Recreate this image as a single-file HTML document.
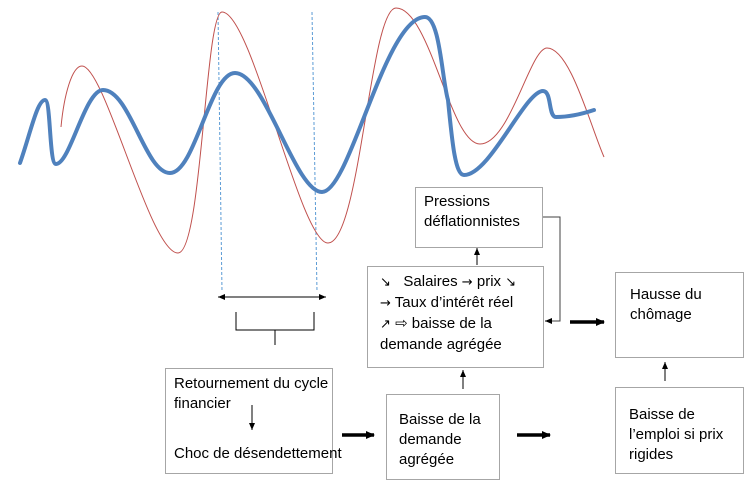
<!DOCTYPE html>
<html><head><meta charset="utf-8"><style>
body{margin:0;background:#fff;width:751px;height:490px;overflow:hidden;position:relative;font-family:"Liberation Sans",sans-serif;}
.b{position:absolute;border:1px solid #a6a6a6;background:#fff;box-sizing:border-box;font-size:15px;line-height:20px;color:#000;white-space:nowrap;}
.g{font-family:"DejaVu Sans",sans-serif;font-size:13px;}
</style></head><body>
<svg width="751" height="490" style="position:absolute;left:0;top:0">
<defs>
<marker id="a" markerWidth="8" markerHeight="8" refX="7" refY="4" orient="auto" markerUnits="userSpaceOnUse"><path d="M0,1 L7,4 L0,7z" fill="#000"/></marker>
<marker id="t" markerWidth="10" markerHeight="10" refX="8" refY="5" orient="auto" markerUnits="userSpaceOnUse"><path d="M0,1 L9,5 L0,9z" fill="#000"/></marker>
</defs>
<line x1="218" y1="12" x2="222" y2="292" stroke="#5b9bd5" stroke-dasharray="3,2" stroke-width="1"/>
<line x1="312" y1="12" x2="317" y2="292" stroke="#5b9bd5" stroke-dasharray="3,2" stroke-width="1"/>
<path d="M61,127 C64,95 72,66 82,66 C105,66 150,253 178,253 C202,253 205,12 222,12 C252,12 300,243 328,243 C360,243 370,8 396,8 C430,8 450,144 480,144 C510,144 530,48 547,48 C570,48 590,125 604,157" fill="none" stroke="#c0504d" stroke-width="1"/>
<path d="M20,163 C30,135 37,100 45,100 C51,100 49,164 56,164 C70,164 85,90 103,90 C130,90 145,173 170,173 C195,173 210,73 235,73 C265,73 295,192 322,192 C350,192 385,17 425,17 C440,17 442,80 448,100 C452,140 455,175 464,175 C490,175 525,91 543,91 C552,91 548,117 556,117 C570,117 585,113 594,110" fill="none" stroke="#4f81bd" stroke-width="4" stroke-linecap="round"/>
<line x1="220" y1="297" x2="326" y2="297" stroke="#000" marker-end="url(#a)"/>
<line x1="326" y1="297" x2="218" y2="297" stroke="#000" marker-end="url(#a)"/>
<path d="M236,312 V330 H314 V312 M275,330 V345" fill="none" stroke="#000"/>
<line x1="477" y1="265" x2="477" y2="248" stroke="#000" marker-end="url(#a)"/>
<path d="M543,217 H560 V321 H545" fill="none" stroke="#404040"/>
<path d="M552,321 H545" stroke="#000" marker-end="url(#a)"/>
<line x1="463" y1="389" x2="463" y2="370" stroke="#000" marker-end="url(#a)"/>
<line x1="665" y1="381" x2="665" y2="362" stroke="#000" marker-end="url(#a)"/>
<line x1="252" y1="405" x2="252" y2="430" stroke="#000" marker-end="url(#a)"/>
<line x1="342" y1="435" x2="374" y2="435" stroke="#000" stroke-width="3.5" marker-end="url(#t)"/>
<line x1="517" y1="435" x2="550" y2="435" stroke="#000" stroke-width="3.5" marker-end="url(#t)"/>
<line x1="570" y1="322" x2="604" y2="322" stroke="#000" stroke-width="3.5" marker-end="url(#t)"/>
</svg>
<div class="b" style="left:415px;top:187px;width:128px;height:61px;padding:4px 8px">Pressions<br>déflationnistes</div>
<div class="b" style="left:367px;top:266px;width:177px;height:102px;padding:5px 12px"><span class="g">&#8600;</span>&nbsp;&nbsp; Salaires <span class="g">&#8594;</span> prix <span class="g">&#8600;</span><br><span class="g">&#8594;</span> Taux d’intérêt réel<br><span class="g">&#8599;</span> &#8680; baisse de la<br>demande agrégée</div>
<div class="b" style="left:615px;top:272px;width:129px;height:86px;padding:12px 14px">Hausse du<br>chômage</div>
<div class="b" style="left:165px;top:368px;width:168px;height:106px;padding:5px 8px;background:transparent">Retournement du cycle<br>financier<div style="position:absolute;left:8px;top:75px">Choc de désendettement</div></div>
<div class="b" style="left:386px;top:394px;width:114px;height:86px;padding:15px 12px">Baisse de la<br>demande<br>agrégée</div>
<div class="b" style="left:615px;top:387px;width:129px;height:87px;padding:17px 13px">Baisse de<br>l’emploi si prix<br>rigides</div>
</body></html>
